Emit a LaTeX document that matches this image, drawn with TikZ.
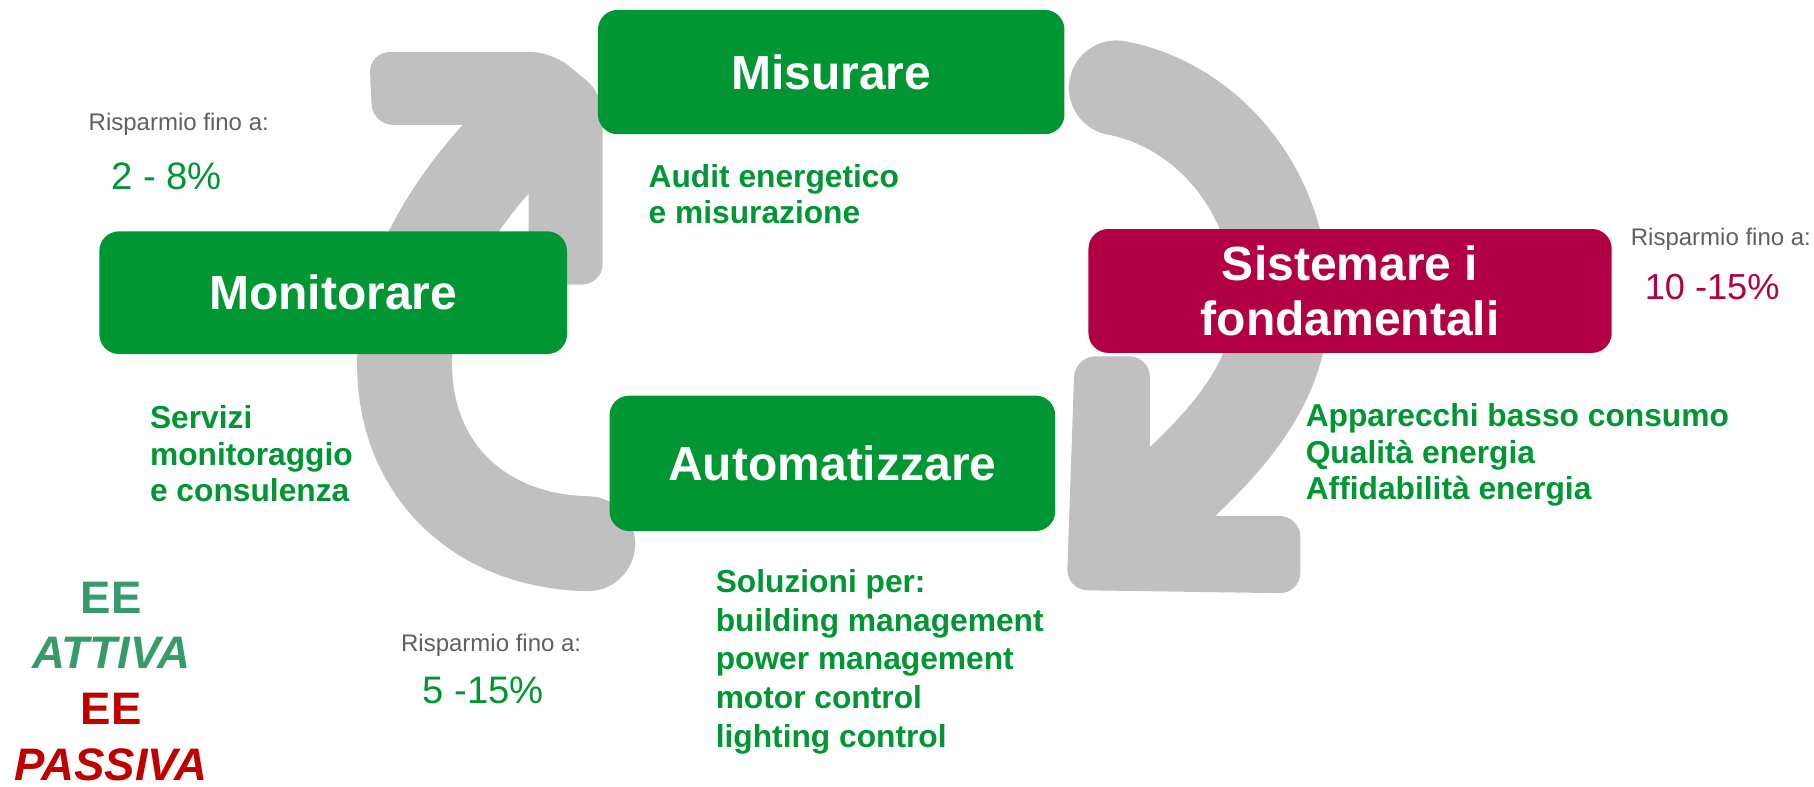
\documentclass[tikz,border=0pt]{standalone}
\usepackage{fontspec}
\setmainfont{Liberation Sans}
\definecolor{boxgreen}{RGB}{0,150,52}
\definecolor{boxred}{RGB}{178,0,68}
\definecolor{arrowgray}{RGB}{192,192,192}
\definecolor{notegray}{RGB}{96,96,100}
\definecolor{eegreen}{RGB}{54,155,105}
\definecolor{eered}{RGB}{192,0,0}
\begin{document}
\begin{tikzpicture}[x=0.01cm,y=-0.01cm,
  stepbox/.style={rounded corners=0.17cm, inner sep=0pt, text=white, font=\fontsize{11.8pt}{13.6pt}\selectfont\bfseries, align=center},
  grayshaft/.style={draw=arrowgray, line width=0.82cm, line cap=round},
  grayhead/.style={fill=arrowgray, rounded corners=0.18cm},
  subtext/.style={anchor=base west, inner sep=0pt, text=boxgreen},
  savelabel/.style={anchor=base west, inner sep=0pt, text=notegray, font=\fontsize{5.9pt}{7pt}\selectfont},
  percent/.style={anchor=base west, inner sep=0pt, font=\fontsize{9.4pt}{11pt}\selectfont}
]
\useasboundingbox (0,0) rectangle (1568,680);
\fill[white] (0,0) rectangle (1568,680);

% gray cycle arrows
\draw[grayshaft] (508,470) .. controls (410,468) and (345,400) .. (350,305)
                 .. controls (352,235) and (395,165) .. (470,95);
\fill[grayhead] (319,45) -- (477,45) -- (521,81) -- (521,246) -- (457,246) -- (457,108) -- (322,108) -- cycle;

\draw[grayshaft] (965,76) .. controls (1040,90) and (1105,160) .. (1108,255)
                 .. controls (1110,330) and (1060,385) .. (990,445);
\fill[grayhead] (929,308) -- (994,308) -- (994,446) -- (1124,446) -- (1124,513) -- (922,510) -- cycle;

% step boxes
\node[stepbox, fill=boxgreen, minimum width=4.03cm, minimum height=1.074cm] (mis) at (718.5,62.3) {Misurare};
\node[stepbox, fill=boxgreen, minimum width=4.04cm, minimum height=1.06cm] (mon) at (288,253) {Monitorare};
\node[stepbox, fill=boxred, minimum width=4.52cm, minimum height=1.07cm] (sis) at (1167,251.5) {Sistemare i\\fondamentali};
\node[stepbox, fill=boxgreen, minimum width=3.85cm, minimum height=1.17cm] (aut) at (719.5,400.5) {Automatizzare};

% descriptions
\node[subtext, font=\fontsize{7.8pt}{9.05pt}\selectfont\bfseries] (audit) at (560,161.8)
  {\begin{tabular}[t]{@{}l@{}}Audit energetico\\e misurazione\end{tabular}};
\node[subtext, font=\fontsize{7.8pt}{8.95pt}\selectfont\bfseries] (serv) at (129,370.8)
  {\begin{tabular}[t]{@{}l@{}}Servizi\\monitoraggio\\e consulenza\end{tabular}};
\node[subtext, font=\fontsize{7.8pt}{9.0pt}\selectfont\bfseries] (app) at (1128,368.8)
  {\begin{tabular}[t]{@{}l@{}}Apparecchi basso consumo\\Qualità energia\\Affidabilità energia\end{tabular}};
\node[subtext, font=\fontsize{7.8pt}{9.53pt}\selectfont\bfseries] (sol) at (618,512)
  {\begin{tabular}[t]{@{}l@{}}Soluzioni per:\\building management\\power management\\motor control\\lighting control\end{tabular}};

% savings
\node[savelabel] (s1) at (76,113) {Risparmio fino a:};
\node[percent, text=boxgreen] (p1) at (95.5,164) {2 - 8\%};
\node[savelabel] (s2) at (1409,212.6) {Risparmio fino a:};
\node[percent, text=boxred, font=\fontsize{8.9pt}{11pt}\selectfont] (p2) at (1421,259.3) {10 -15\%};
\node[savelabel] (s3) at (346,563.3) {Risparmio fino a:};
\node[percent, text=boxgreen] (p3) at (364.5,607.9) {5 -15\%};

% EE legend
\node[anchor=base, inner sep=0pt, font=\fontsize{11.2pt}{13.7pt}\selectfont\bfseries] (ee) at (96,530)
  {\begin{tabular}[t]{@{}c@{}}\textcolor{eegreen}{EE}\\\textcolor{eegreen}{\itshape ATTIVA}\\\textcolor{eered}{EE}\\\textcolor{eered}{\itshape PASSIVA}\end{tabular}};
\end{tikzpicture}
\end{document}
